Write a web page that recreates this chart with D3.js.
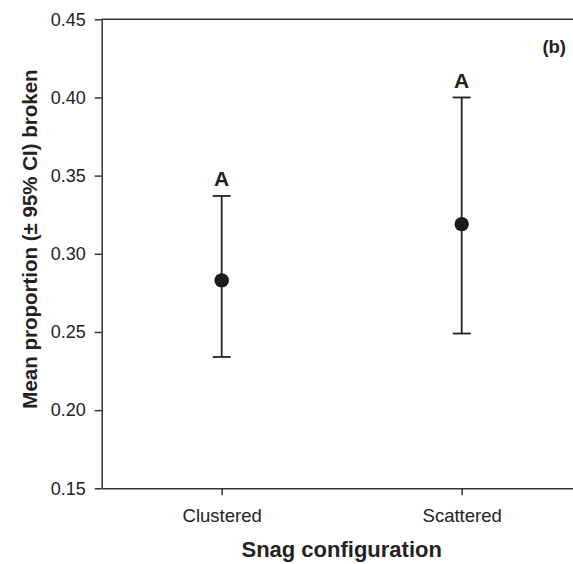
<!DOCTYPE html>
<html>
<head>
<meta charset="utf-8">
<script src="https://cdn.jsdelivr.net/npm/d3@7"></script>
<style>
  body { margin: 0; background: #fff; }
  svg { display: block; font-family: Arial, "Liberation Sans", sans-serif; }
</style>
</head>
<body>
<div id="chart"></div>
<script>
var categories = ["Clustered", "Scattered"];
var means = [0.283, 0.319];
var lowerCI = [0.234, 0.249];
var upperCI = [0.337, 0.400];
var letters = ["A", "A"];
var yTicks = [0.15, 0.20, 0.25, 0.30, 0.35, 0.40, 0.45];

var W = 573, H = 564;
var margin = {top: 19.3, left: 101.7};
var plotH = 488.3 - margin.top;

var svg = d3.select("#chart").append("svg")
  .attr("width", W)
  .attr("height", H);

var x = d3.scaleLinear().domain([0.5, 2.5]).range([margin.left, margin.left + 480]);
var y = d3.scaleLinear().domain([0.15, 0.45]).range([margin.top + plotH, margin.top]);

var data = categories.map(function(c, i) {
  return {cat: c, pos: i + 1, mean: means[i], lo: lowerCI[i], hi: upperCI[i], letter: letters[i]};
});

// y axis
var yAxis = svg.append("g")
  .attr("transform", "translate(" + margin.left + ",0)")
  .call(d3.axisLeft(y).tickValues(yTicks).tickFormat(d3.format(".2f")).tickSize(7).tickPadding(9).tickSizeOuter(0));
yAxis.selectAll("text").style("font-size", "18px").attr("fill", "#222");

// x axis
var xAxis = svg.append("g")
  .attr("transform", "translate(0," + (margin.top + plotH) + ")")
  .call(d3.axisBottom(x).tickValues([1, 2]).tickFormat(function(d) { return categories[d - 1]; })
    .tickSize(7).tickPadding(14).tickSizeOuter(0));
xAxis.selectAll("text").style("font-size", "18.5px").attr("fill", "#222");

// top frame line
svg.append("line")
  .attr("x1", x(0.5)).attr("x2", x(2.5))
  .attr("y1", y(0.45)).attr("y2", y(0.45))
  .attr("stroke", "#333").attr("stroke-width", 1.5);

svg.selectAll(".domain, .tick line").attr("stroke", "#333").attr("stroke-width", 1.5);

// error bars
var g = svg.append("g");
g.selectAll(".ci").data(data).enter().append("line")
  .attr("x1", function(d) { return x(d.pos); })
  .attr("x2", function(d) { return x(d.pos); })
  .attr("y1", function(d) { return y(d.lo); })
  .attr("y2", function(d) { return y(d.hi); })
  .attr("stroke", "#222").attr("stroke-width", 1.8);
["lo", "hi"].forEach(function(k) {
  g.selectAll(".cap-" + k).data(data).enter().append("line")
    .attr("x1", function(d) { return x(d.pos) - 9; })
    .attr("x2", function(d) { return x(d.pos) + 9; })
    .attr("y1", function(d) { return y(d[k]); })
    .attr("y2", function(d) { return y(d[k]); })
    .attr("stroke", "#222").attr("stroke-width", 1.8);
});
g.selectAll("circle").data(data).enter().append("circle")
  .attr("cx", function(d) { return x(d.pos); })
  .attr("cy", function(d) { return y(d.mean); })
  .attr("r", 7.2)
  .attr("fill", "#1a1a1a");
g.selectAll(".letter").data(data).enter().append("text")
  .attr("x", function(d) { return x(d.pos); })
  .attr("y", function(d) { return y(d.hi) - 9.5; })
  .attr("text-anchor", "middle")
  .style("font-size", "21px").style("font-weight", "bold")
  .attr("fill", "#222")
  .text(function(d) { return d.letter; });

// panel label
svg.append("text")
  .attr("x", 566).attr("y", 53)
  .attr("text-anchor", "end")
  .style("font-size", "18.5px").style("font-weight", "bold")
  .attr("fill", "#222")
  .text("(b)");

// axis titles
svg.append("text")
  .attr("x", (x(1) + x(2)) / 2).attr("y", 557)
  .attr("text-anchor", "middle")
  .style("font-size", "22px").style("font-weight", "bold")
  .attr("fill", "#222")
  .text("Snag configuration");

svg.append("text")
  .attr("transform", "translate(37," + 239 + ") rotate(-90)")
  .attr("text-anchor", "middle")
  .style("font-size", "20.5px").style("font-weight", "bold")
  .attr("fill", "#222")
  .text("Mean proportion (\u00b1 95% CI) broken");
</script>
</body>
</html>
